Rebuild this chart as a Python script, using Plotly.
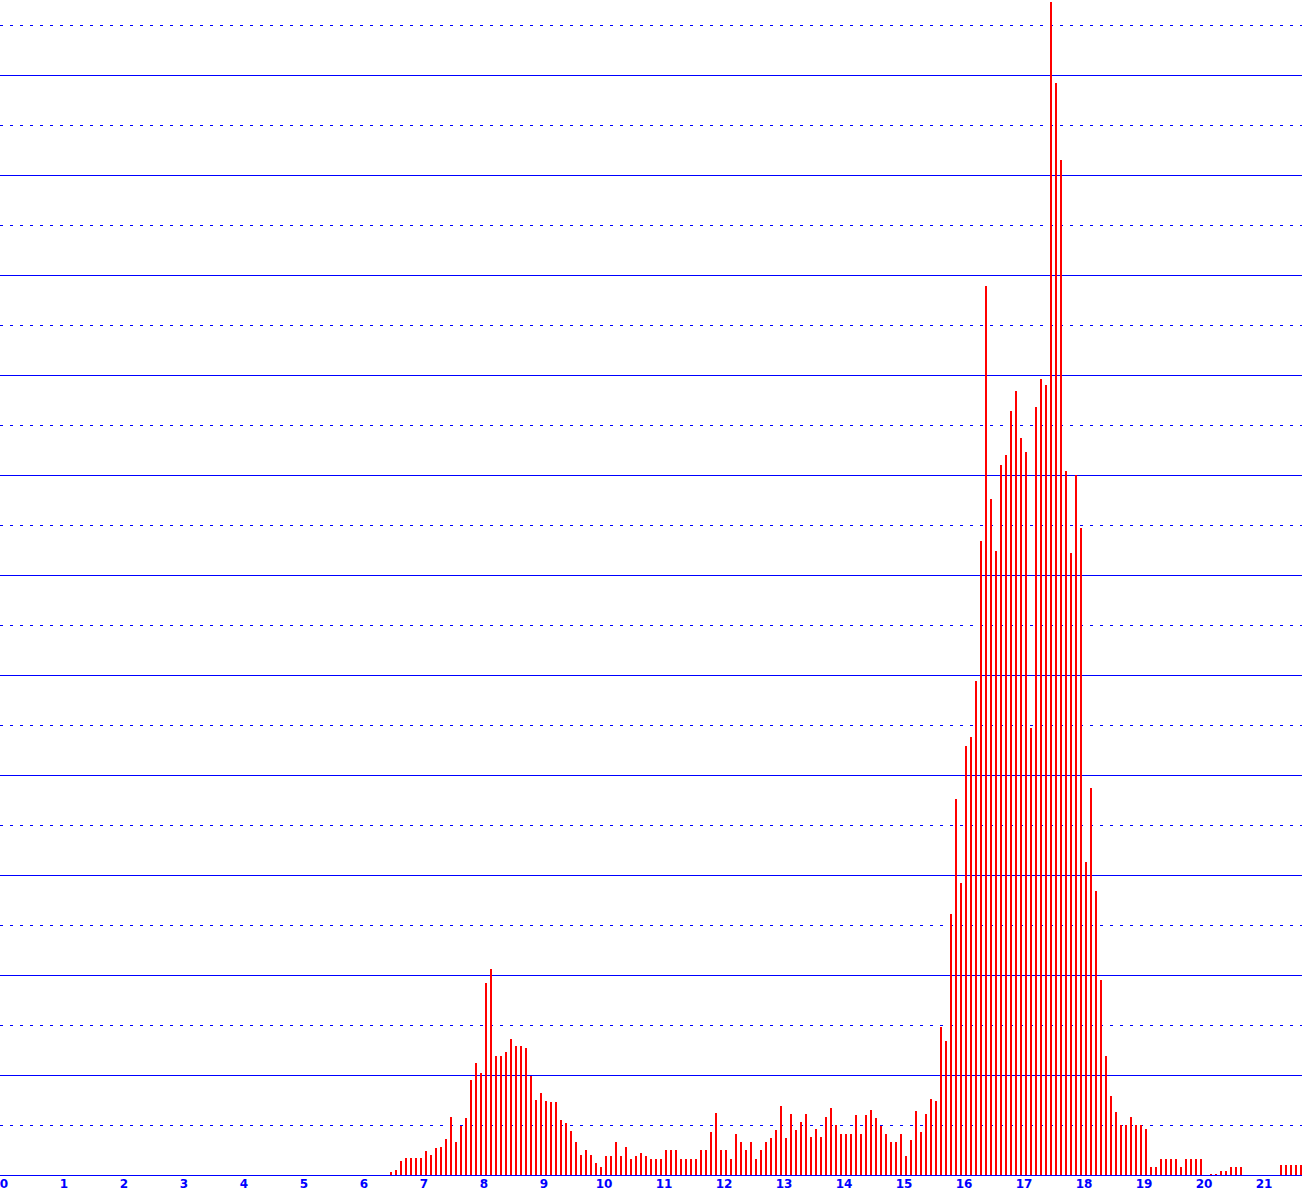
import plotly.graph_objects as go

# Histogram bins: width 1/12 of an x unit, starting at bin index FIRST_BIN
BIN_WIDTH = 1 / 12
FIRST_BIN = 77
counts = [
    0.3, 0.5, 1.4, 1.7, 1.7, 1.7, 1.7, 2.4, 2.0, 2.7,          # k77-86
    2.8, 3.6, 5.8, 3.3, 4.9, 5.7, 9.5, 11.2, 10.2, 19.2,       # k87-96
    20.6, 11.9, 11.9, 12.3, 13.6, 12.9, 12.9, 12.7, 9.9, 7.5,  # k97-106
    8.2, 7.4, 7.3, 7.3, 5.5, 5.2, 4.4, 3.3, 2.0, 2.5,          # k107-116
    2.0, 1.2, 0.8, 1.9, 1.9, 3.3, 1.9, 2.8, 1.6, 1.9,          # k117-126
    2.2, 1.9, 1.6, 1.6, 1.6, 2.5, 2.5, 2.5, 1.6, 1.6,          # k127-136
    1.6, 1.6, 2.5, 2.5, 4.3, 6.2, 2.5, 2.5, 1.6, 4.1,          # k137-146
    3.3, 2.5, 3.3, 1.6, 2.5, 3.3, 3.7, 4.5, 6.9, 3.7,          # k147-156
    6.1, 4.5, 5.3, 6.1, 3.8, 4.6, 3.8, 5.8, 6.7, 5.0,          # k157-166
    4.1, 4.1, 4.1, 6.0, 4.1, 6.0, 6.5, 5.7, 4.9, 4.1,          # k167-176
    3.3, 3.3, 4.1, 1.9, 3.5, 6.4, 4.3, 6.1, 7.6, 7.4,          # k177-186
    14.8, 13.4, 26.1, 37.6, 29.2, 42.9, 43.8, 49.4, 63.4, 88.9,  # k187-196
    67.6, 62.4, 71.0, 72.0, 76.4, 78.4, 73.7, 72.3, 44.7, 76.8,  # k197-206
    79.6, 79.0, 117.3, 109.2, 101.5, 70.4, 62.2, 70.0, 64.7, 31.3,  # k207-216
    38.7, 28.4, 19.5, 11.9, 7.9, 6.3, 5.0, 5.0, 5.8, 5.0,      # k217-226
    5.0, 4.6, 0.8, 0.8, 1.6, 1.6, 1.6, 1.6, 0.8, 1.6,          # k227-236
    1.6, 1.6, 1.6, 0.0, 0.1, 0.1, 0.4, 0.4, 0.8, 0.8,          # k237-246
    0.8, 0.0, 0.0, 0.0, 0.0, 0.0, 0.0, 0.0, 1.0, 1.0,          # k247-256
    1.0, 1.0, 1.0,                                             # k257-259
]
tick_values = list(range(0, 22))
tick_labels = [str(v) for v in tick_values]

bin_starts = [(FIRST_BIN + i) * BIN_WIDTH for i in range(len(counts))]

fig = go.Figure()
fig.add_trace(go.Bar(
    x=bin_starts,
    y=counts,
    width=[1 / 30] * len(counts),
    offset=1 / 60,
    marker=dict(color="#ff0000", line=dict(width=0)),
    hoverinfo="x+y",
))

W, H = 1302, 1195
fig.update_layout(
    width=W, height=H,
    margin=dict(l=0, r=0, t=0, b=20, pad=0),
    paper_bgcolor="white",
    plot_bgcolor="white",
    showlegend=False,
    bargap=0,
    xaxis=dict(
        range=[-4 / 60, 1298 / 60],
        tickmode="array",
        tickvals=tick_values,
        ticktext=tick_labels,
        showgrid=False,
        zeroline=False,
        showline=True,
        linecolor="#0000ff",
        linewidth=1,
        ticks="",
        ticklabelstandoff=-2,
        ticklabeloverflow="allow",
        tickfont=dict(family="DejaVu Sans", size=12, color="#0000ff", weight="bold"),
        fixedrange=True,
    ),
    yaxis=dict(
        range=[0, 117.5],
        dtick=10,
        tick0=0,
        showgrid=True,
        gridcolor="#0000ff",
        gridwidth=1,
        showticklabels=False,
        zeroline=False,
        ticks="",
        minor=dict(dtick=5, tick0=0, showgrid=True, gridcolor="#0000ff",
                   gridwidth=1, griddash="3px,7px"),
        fixedrange=True,
    ),
)

fig.write_html(
    "out.html",
    config={"displayModeBar": False},
    post_script="document.body.style.margin='0';document.body.style.padding='0';document.body.style.overflow='hidden';",
)
